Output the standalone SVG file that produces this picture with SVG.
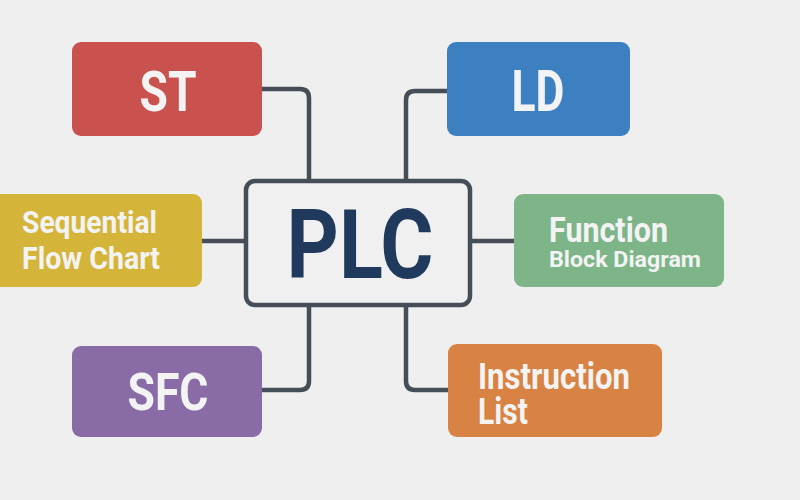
<svg xmlns="http://www.w3.org/2000/svg" width="800" height="500" viewBox="0 0 800 500">
<style>
.box{stroke:none}
.lbl{font-family:Roboto,"Liberation Sans",sans-serif;font-weight:bold;fill:#f3f3f3}
.con{fill:none;stroke:#454d57;stroke-width:4.5;stroke-linejoin:round}
</style>
<rect width="800" height="500" fill="#efefef"/>
<g id="connectors">
<path class="con" d="M262 89 H300 Q309 89 309 98 V181"/>
<path class="con" d="M447 91 H415 Q406 91 406 100 V181"/>
<path class="con" d="M202 241 H246"/>
<path class="con" d="M470 241 H514"/>
<path class="con" d="M262 390 H300 Q309 390 309 381 V305"/>
<path class="con" d="M448 390 H415 Q406 390 406 381 V305"/>
</g>
<g id="plc">
<rect x="246" y="181" width="224" height="124" rx="9" fill="#f0f0f0" stroke="#454d57" stroke-width="4.5"/>
<text x="360" y="278" text-anchor="middle" textLength="147" lengthAdjust="spacingAndGlyphs" font-family="Roboto,'Liberation Sans',sans-serif" font-weight="bold" font-size="97" fill="#1f3a5c">PLC</text>
</g>
<g id="st">
<rect class="box" x="72" y="42" width="190" height="94" rx="9" fill="#c9524f"/>
<text class="lbl" x="168" y="111" text-anchor="middle" font-size="56" textLength="57" lengthAdjust="spacingAndGlyphs">ST</text>
</g>
<g id="ld">
<rect class="box" x="447" y="42" width="183" height="94" rx="9" fill="#3d80c2"/>
<text class="lbl" x="538" y="111" text-anchor="middle" font-size="57" textLength="53" lengthAdjust="spacingAndGlyphs">LD</text>
</g>
<g id="sfc-chart">
<rect class="box" x="-12" y="194" width="214" height="93" rx="9" fill="#d4b53a"/>
<text class="lbl" x="22" y="233" font-size="31" textLength="135" lengthAdjust="spacingAndGlyphs">Sequential</text>
<text class="lbl" x="22" y="269" font-size="31" textLength="138" lengthAdjust="spacingAndGlyphs">Flow Chart</text>
</g>
<g id="fbd">
<rect class="box" x="514" y="194" width="210" height="93" rx="9" fill="#7db589"/>
<text class="lbl" x="549" y="242" font-size="35" textLength="119" lengthAdjust="spacingAndGlyphs">Function</text>
<text class="lbl" x="549" y="267" font-size="22.5" textLength="152" lengthAdjust="spacingAndGlyphs">Block Diagram</text>
</g>
<g id="sfc">
<rect class="box" x="72" y="346" width="190" height="91" rx="9" fill="#896ca6"/>
<text class="lbl" x="168" y="410" text-anchor="middle" font-size="52" textLength="81" lengthAdjust="spacingAndGlyphs">SFC</text>
</g>
<g id="il">
<rect class="box" x="448" y="344" width="214" height="93" rx="9" fill="#d88243"/>
<text class="lbl" x="478" y="389" font-size="36" textLength="152" lengthAdjust="spacingAndGlyphs">Instruction</text>
<text class="lbl" x="478" y="424" font-size="36" textLength="50" lengthAdjust="spacingAndGlyphs">List</text>
</g>
</svg>
